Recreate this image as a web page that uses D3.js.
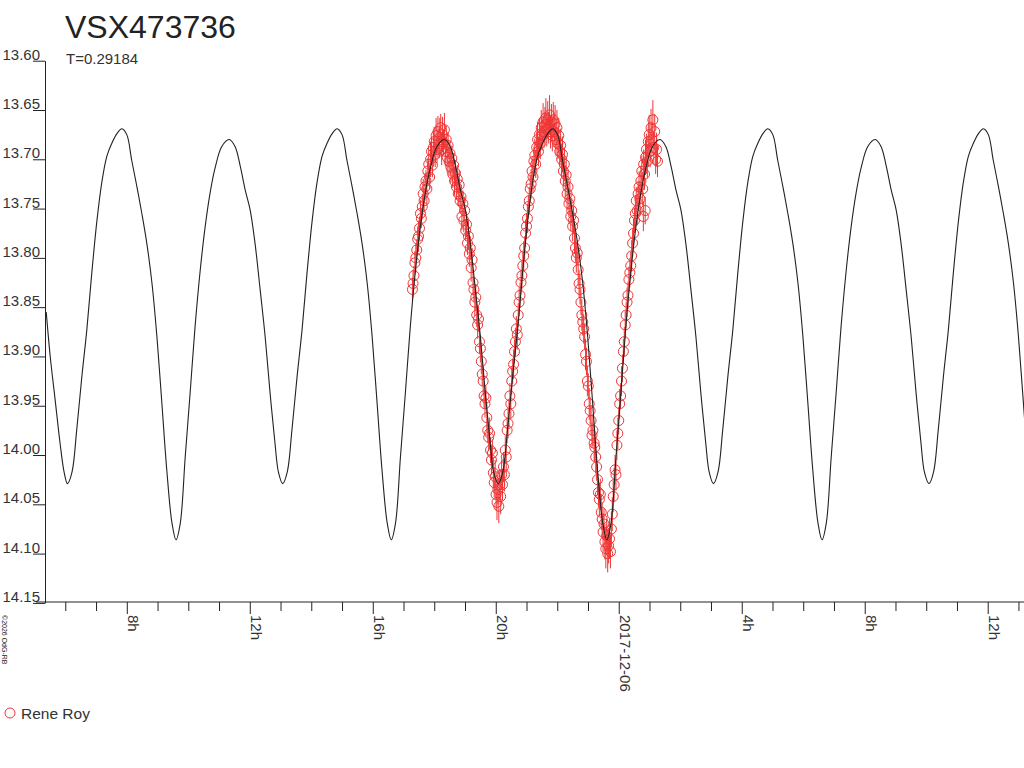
<!DOCTYPE html>
<html>
<head>
<meta charset="utf-8">
<script src="https://cdn.jsdelivr.net/npm/d3@7"></script>
<style>
  html, body { margin: 0; padding: 0; background: #fff; }
  svg { display: block; }
  text { font-family: "Liberation Sans", Arial, Helvetica, sans-serif; }
</style>
</head>
<body>
<svg id="chart" width="1024" height="768"></svg>
<script>
// ---------- DATA (times are hours relative to 2017-12-06 00:00 UT) ----------
const starName = "VSX473736";
const periodLabel = "T=0.29184";
const observer = "Rene Roy";
const copyright = "\u00A92026 OdG-RB";

const yTicks = [13.60, 13.65, 13.70, 13.75, 13.80, 13.85, 13.90, 13.95, 14.00, 14.05, 14.10, 14.15];
const xDomainHours = [-18.66, 13.18];

// model light curve [hour, mag]
const modelCurve = [
  [-18.62,13.855],[-18.49,13.900],[-18.33,13.944],[-18.17,13.988],[-18.04,14.017],
  [-17.93,14.029],[-17.78,14.017],[-17.63,13.975],[-17.46,13.920],[-17.30,13.873],[-17.14,13.816],
  [-16.97,13.762],[-16.81,13.723],[-16.65,13.697],[-16.49,13.684],[-16.32,13.674],[-16.16,13.669],
  [-16.00,13.675],[-15.84,13.701],[-15.67,13.728],[-15.51,13.755],[-15.35,13.785],[-15.18,13.826],
  [-15.02,13.880],[-14.86,13.947],[-14.70,14.015],[-14.53,14.069],[-14.40,14.086],[-14.26,14.069],
  [-14.10,14.002],[-13.94,13.937],[-13.78,13.870],[-13.61,13.812],[-13.45,13.768],[-13.29,13.734],
  [-13.13,13.709],[-12.91,13.687],[-12.67,13.680],[-12.48,13.687],[-12.31,13.707],[-12.15,13.731],
  [-11.99,13.751],[-11.83,13.785],[-11.66,13.833],[-11.50,13.880],[-11.34,13.937],[-11.18,13.988],
  [-11.07,14.017],
  [-10.93,14.029],[-10.78,14.017],[-10.63,13.975],[-10.46,13.920],[-10.30,13.873],[-10.14,13.816],
  [-9.97,13.762],[-9.81,13.723],[-9.65,13.697],[-9.49,13.684],[-9.32,13.674],[-9.16,13.669],
  [-9.00,13.675],[-8.84,13.701],[-8.67,13.728],[-8.51,13.755],[-8.35,13.785],[-8.18,13.826],
  [-8.02,13.880],[-7.86,13.947],[-7.70,14.015],[-7.53,14.069],[-7.40,14.086],[-7.26,14.069],
  [-7.10,14.002],[-6.94,13.937],[-6.78,13.870],[-6.61,13.812],[-6.45,13.768],[-6.29,13.734],
  [-6.13,13.709],[-5.91,13.687],[-5.67,13.680],[-5.48,13.687],[-5.31,13.707],[-5.15,13.731],
  [-4.99,13.751],[-4.83,13.785],[-4.66,13.833],[-4.50,13.880],[-4.34,13.937],[-4.18,13.988],
  [-4.07,14.017],
  [-3.92,14.029],[-3.77,14.017],[-3.62,13.975],[-3.45,13.920],[-3.29,13.873],[-3.13,13.816],
  [-2.96,13.762],[-2.80,13.723],[-2.64,13.697],[-2.48,13.684],[-2.31,13.674],[-2.15,13.669],
  [-1.99,13.675],[-1.83,13.701],[-1.66,13.728],[-1.50,13.755],[-1.34,13.785],[-1.17,13.826],
  [-1.01,13.880],[-0.85,13.947],[-0.69,14.015],[-0.52,14.069],[-0.39,14.086],[-0.25,14.069],
  [-0.09,14.002],[0.07,13.937],[0.23,13.870],[0.40,13.812],[0.56,13.768],[0.72,13.734],
  [0.88,13.709],[1.10,13.687],[1.34,13.680],[1.53,13.687],[1.70,13.707],[1.86,13.731],
  [2.02,13.751],[2.18,13.785],[2.35,13.833],[2.51,13.880],[2.67,13.937],[2.83,13.988],
  [2.94,14.017],
  [3.08,14.029],[3.23,14.017],[3.38,13.975],[3.55,13.920],[3.71,13.873],[3.87,13.816],
  [4.04,13.762],[4.20,13.723],[4.36,13.697],[4.52,13.684],[4.69,13.674],[4.85,13.669],
  [5.01,13.675],[5.17,13.701],[5.34,13.728],[5.50,13.755],[5.66,13.785],[5.83,13.826],
  [5.99,13.880],[6.15,13.947],[6.31,14.015],[6.48,14.069],[6.61,14.086],[6.75,14.069],
  [6.91,14.002],[7.07,13.937],[7.23,13.870],[7.40,13.812],[7.56,13.768],[7.72,13.734],
  [7.88,13.709],[8.10,13.687],[8.34,13.680],[8.53,13.687],[8.70,13.707],[8.86,13.731],
  [9.02,13.751],[9.18,13.785],[9.35,13.833],[9.51,13.880],[9.67,13.937],[9.83,13.988],
  [9.94,14.017],
  [10.09,14.029],[10.24,14.017],[10.39,13.975],[10.56,13.920],[10.72,13.873],[10.88,13.816],
  [11.05,13.762],[11.21,13.723],[11.37,13.697],[11.53,13.684],[11.70,13.674],[11.86,13.669],
  [12.02,13.675],[12.18,13.701],[12.35,13.728],[12.51,13.755],[12.67,13.785],[12.84,13.826],
  [13.00,13.880],[13.16,13.947],[13.32,14.015]
];

// observations [hour, mag, error]
const observations = [
  [-6.71,13.832,0.012],[-6.69,13.826,0.014],[-6.66,13.818,0.010],[-6.63,13.805,0.012],[-6.60,13.800,0.015],
  [-6.57,13.792,0.011],[-6.54,13.781,0.013],[-6.51,13.778,0.016],[-6.48,13.770,0.012],[-6.45,13.755,0.014],
  [-6.42,13.760,0.010],[-6.39,13.748,0.013],[-6.36,13.735,0.015],[-6.33,13.742,0.012],[-6.30,13.728,0.014],
  [-6.27,13.722,0.011],[-6.24,13.730,0.016],[-6.21,13.712,0.013],[-6.18,13.705,0.015],[-6.15,13.718,0.012],
  [-6.12,13.700,0.018],[-6.09,13.692,0.014],[-6.06,13.706,0.012],[-6.03,13.688,0.016],[-6.00,13.682,0.015],
  [-5.97,13.695,0.013],[-5.94,13.676,0.018],[-5.91,13.690,0.014],[-5.88,13.672,0.016],[-5.85,13.684,0.015],
  [-5.82,13.678,0.020],[-5.79,13.668,0.014],[-5.76,13.690,0.016],[-5.73,13.675,0.018],[-5.70,13.683,0.013],
  [-5.67,13.670,0.017],[-5.64,13.692,0.015],[-5.61,13.680,0.014],[-5.58,13.698,0.016],[-5.55,13.686,0.013],
  [-5.52,13.702,0.015],[-5.49,13.694,0.012],[-5.46,13.708,0.016],[-5.43,13.699,0.013],[-5.40,13.715,0.014],
  [-5.37,13.706,0.012],[-5.34,13.722,0.015],[-5.31,13.714,0.013],
  [-5.28,13.728,0.013],[-5.25,13.720,0.014],[-5.22,13.735,0.012],[-5.19,13.726,0.015],[-5.16,13.742,0.013],
  [-5.13,13.738,0.012],[-5.10,13.758,0.014],[-5.07,13.745,0.013],[-5.04,13.762,0.012],[-5.01,13.752,0.014],
  [-4.98,13.772,0.011],[-4.95,13.766,0.013],[-4.92,13.785,0.012],[-4.89,13.778,0.014],[-4.86,13.796,0.013],
  [-4.83,13.790,0.012],[-4.80,13.810,0.014],[-4.77,13.802,0.012],[-4.74,13.825,0.013],[-4.71,13.832,0.012],
  [-4.68,13.845,0.014],[-4.65,13.840,0.013],[-4.62,13.858,0.012],[-4.59,13.868,0.014],[-4.56,13.862,0.013],
  [-4.53,13.885,0.012],[-4.50,13.892,0.014],[-4.47,13.905,0.013],[-4.44,13.918,0.012],[-4.41,13.925,0.015],
  [-4.38,13.940,0.013],[-4.35,13.948,0.014],[-4.32,13.942,0.012],[-4.29,13.962,0.015],[-4.26,13.975,0.013],
  [-4.23,13.982,0.014],[-4.20,13.978,0.016],[-4.17,13.995,0.013],[-4.14,14.005,0.015],[-4.11,13.998,0.014],
  [-4.08,14.018,0.016],[-4.05,14.028,0.015],[-4.02,14.022,0.017],[-3.99,14.040,0.016],[-3.96,14.048,0.018],
  [-3.93,14.035,0.015],[-3.90,14.052,0.017],[-3.87,14.030,0.016],[-3.84,14.042,0.018],[-3.81,14.020,0.015],
  [-3.78,14.030,0.016],[-3.75,14.012,0.015],[-3.72,14.020,0.017],[-3.69,13.995,0.014],[-3.66,14.002,0.016],
  [-3.63,13.975,0.013],[-3.60,13.968,0.015],[-3.57,13.958,0.014],[-3.54,13.940,0.013],[-3.51,13.948,0.015],
  [-3.48,13.925,0.014],[-3.45,13.915,0.013],[-3.42,13.908,0.015],[-3.39,13.895,0.012],[-3.36,13.885,0.014],
  [-3.33,13.872,0.013],[-3.30,13.878,0.015],[-3.27,13.858,0.012],[-3.24,13.845,0.014],[-3.21,13.838,0.013],
  [-3.18,13.825,0.012],[-3.15,13.818,0.014],[-3.12,13.808,0.013],[-3.09,13.798,0.015],[-3.06,13.790,0.012],
  [-3.03,13.775,0.014],[-3.00,13.768,0.013],[-2.97,13.760,0.015],[-2.94,13.748,0.012],[-2.91,13.742,0.014],
  [-2.88,13.730,0.013],[-2.85,13.725,0.015],[-2.82,13.712,0.014],[-2.79,13.718,0.016],[-2.76,13.702,0.015],
  [-2.73,13.696,0.017],[-2.70,13.705,0.014],[-2.67,13.688,0.016],[-2.64,13.680,0.018],[-2.61,13.692,0.015],
  [-2.58,13.675,0.017],[-2.55,13.684,0.016],[-2.52,13.668,0.018],[-2.49,13.676,0.015],[-2.46,13.662,0.019],
  [-2.43,13.672,0.016],[-2.40,13.665,0.018],[-2.37,13.658,0.020],[-2.34,13.670,0.017],[-2.31,13.660,0.019],
  [-2.28,13.668,0.016],[-2.25,13.655,0.020],[-2.22,13.672,0.017],[-2.19,13.662,0.018],[-2.16,13.676,0.016],
  [-2.13,13.660,0.018],[-2.10,13.672,0.016],[-2.07,13.664,0.019],[-2.04,13.680,0.017],[-2.01,13.668,0.018],
  [-1.98,13.684,0.016],[-1.95,13.676,0.018],[-1.92,13.692,0.015],[-1.89,13.686,0.017],[-1.86,13.700,0.016],
  [-1.83,13.695,0.018],[-1.80,13.712,0.015],[-1.77,13.705,0.017],[-1.74,13.722,0.016],[-1.71,13.716,0.014],
  [-1.68,13.735,0.016],[-1.65,13.728,0.015],[-1.62,13.745,0.014],[-1.59,13.740,0.016],[-1.56,13.758,0.015],
  [-1.53,13.752,0.013],[-1.50,13.768,0.015],[-1.47,13.762,0.014],[-1.44,13.780,0.016],[-1.41,13.790,0.014],
  [-1.38,13.800,0.015],[-1.35,13.795,0.013],[-1.32,13.812,0.016],[-1.29,13.826,0.014],[-1.26,13.832,0.015],
  [-1.23,13.845,0.013],[-1.20,13.858,0.016],[-1.17,13.865,0.014],[-1.14,13.872,0.015],[-1.11,13.880,0.013],
  [-1.08,13.898,0.016],[-1.05,13.905,0.014],[-1.02,13.925,0.015],[-0.99,13.930,0.013],[-0.96,13.948,0.016],
  [-0.93,13.955,0.014],[-0.90,13.965,0.015],[-0.87,13.980,0.013],[-0.84,13.975,0.016],[-0.80,13.988,0.018],
  [-0.78,13.992,0.015],[-0.75,14.002,0.017],[-0.72,14.012,0.014],[-0.69,14.025,0.016],[-0.66,14.038,0.015],
  [-0.63,14.045,0.017],[-0.60,14.040,0.016],[-0.57,14.058,0.018],[-0.54,14.065,0.017],[-0.51,14.078,0.019],
  [-0.48,14.070,0.016],[-0.45,14.088,0.018],[-0.42,14.095,0.020],[-0.39,14.082,0.017],[-0.36,14.100,0.019],
  [-0.33,14.092,0.018],[-0.30,14.085,0.020],[-0.27,14.098,0.017],
  [-0.24,14.075,0.018],[-0.21,14.060,0.017],[-0.18,14.042,0.016],[-0.15,14.030,0.017],[-0.12,14.015,0.015],
  [-0.09,14.020,0.016],[-0.06,13.990,0.015],[-0.03,13.978,0.016],[0.00,13.965,0.014],[0.03,13.948,0.015],
  [0.06,13.940,0.013],[0.09,13.925,0.015],[0.12,13.912,0.014],[0.15,13.895,0.013],[0.18,13.885,0.015],
  [0.21,13.868,0.014],[0.24,13.858,0.013],[0.27,13.845,0.015],[0.30,13.838,0.014],[0.33,13.822,0.013],
  [0.36,13.815,0.015],[0.39,13.808,0.014],[0.42,13.798,0.016],[0.45,13.785,0.014],[0.48,13.775,0.015],
  [0.51,13.762,0.013],[0.54,13.755,0.016],[0.57,13.742,0.014],[0.60,13.752,0.015],[0.63,13.735,0.013],
  [0.66,13.728,0.016],[0.69,13.740,0.017],[0.72,13.722,0.015],[0.75,13.712,0.016],[0.78,13.730,0.017],
  [0.80,13.758,0.015],[0.81,13.705,0.015],[0.84,13.715,0.016],[0.86,13.752,0.014],[0.87,13.698,0.018],
  [0.90,13.690,0.016],[0.93,13.702,0.017],[0.96,13.682,0.018],[0.99,13.675,0.020],[1.02,13.692,0.016],
  [1.05,13.668,0.019],[1.08,13.680,0.017],[1.11,13.660,0.020],[1.14,13.688,0.016],[1.17,13.672,0.018],
  [1.20,13.700,0.015],[1.23,13.690,0.017],[1.26,13.702,0.016]
];

// ---------- CHART ----------
const W = 1024, H = 768;
const plotLeft = 45, plotRight = 1024, plotTop = 60.7, plotBottom = 602.9;
const obsColor = "#ee3535";
const base = Date.UTC(2017, 11, 6);
const toDate = h => new Date(base + h * 3600000);

const svg = d3.select("#chart");
svg.append("rect").attr("width", W).attr("height", H).attr("fill", "#fff");

const x = d3.scaleUtc()
  .domain(xDomainHours.map(toDate))
  .range([plotLeft, plotRight]);
const y = d3.scaleLinear()
  .domain([yTicks[0], yTicks[yTicks.length - 1]])
  .range([plotTop, plotBottom]);

// title
svg.append("text").attr("x", 65).attr("y", 38)
  .attr("font-size", 32).attr("fill", "#222").text(starName);
svg.append("text").attr("x", 66).attr("y", 64)
  .attr("font-size", 15).attr("fill", "#333").text(periodLabel);

// y axis
const yAxis = d3.axisLeft(y).tickValues(yTicks).tickSize(12).tickSizeOuter(0)
  .tickFormat(d3.format(".2f"));
const gy = svg.append("g").attr("transform", `translate(${plotLeft},0)`).call(yAxis);
gy.select(".domain").attr("stroke", "#222");
gy.selectAll(".tick line").attr("stroke", "#222");
gy.selectAll(".tick text")
  .attr("x", -5).attr("y", -1.5).attr("dy", null)
  .attr("text-anchor", "end")
  .attr("font-family", "'Liberation Sans', Arial, sans-serif")
  .attr("font-size", 15).attr("fill", "#333");

// x axis
const hourTicks = d3.utcHour.range(toDate(-18), toDate(13.1));
const isMajor = d => d.getUTCHours() % 4 === 0;
const gx = svg.append("g").attr("transform", `translate(0,${plotBottom - 0.9})`);
gx.append("line")
  .attr("x1", 36).attr("x2", plotRight).attr("y1", 0).attr("y2", 0)
  .attr("stroke", "#222");
const xAxisMinor = d3.axisBottom(x).tickValues(hourTicks.filter(d => !isMajor(d)))
  .tickSize(9).tickFormat("");
const gxm = gx.append("g").call(xAxisMinor);
gxm.select(".domain").remove();
gxm.selectAll(".tick line").attr("stroke", "#222");

const xAxisMajor = d3.axisBottom(x).tickValues(hourTicks.filter(isMajor))
  .tickSize(12)
  .tickFormat(d => d.getUTCHours() === 0 ? d3.utcFormat("%Y-%m-%d")(d) : d.getUTCHours() + "h");
const gxM = gx.append("g").call(xAxisMajor);
gxM.select(".domain").remove();
gxM.selectAll(".tick line").attr("stroke", "#222");
gxM.selectAll(".tick text")
  .attr("y", 0).attr("dy", null)
  .attr("transform", "translate(1,13) rotate(90)")
  .attr("text-anchor", "start")
  .attr("font-family", "'Liberation Sans', Arial, sans-serif")
  .attr("font-size", 15).attr("fill", "#333");

// copyright
svg.append("text")
  .attr("transform", "translate(2,615) rotate(90)")
  .attr("font-size", 7).attr("fill", "#222").text(copyright);

// observations
const gObs = svg.append("g");
gObs.selectAll("line.err").data(observations).join("line")
  .attr("class", "err")
  .attr("x1", d => x(toDate(d[0]))).attr("x2", d => x(toDate(d[0])))
  .attr("y1", d => y(d[1] - d[2])).attr("y2", d => y(d[1] + d[2]))
  .attr("stroke", obsColor).attr("stroke-width", 1);
gObs.selectAll("circle").data(observations).join("circle")
  .attr("cx", d => x(toDate(d[0]))).attr("cy", d => y(d[1]))
  .attr("r", 5).attr("fill", "none")
  .attr("stroke", obsColor).attr("stroke-width", 1);

// model curve
const line = d3.line()
  .x(d => x(toDate(d[0])))
  .y(d => y(d[1]))
  .curve(d3.curveCatmullRom.alpha(0.5));
svg.append("path").datum(modelCurve)
  .attr("d", line).attr("fill", "none")
  .attr("stroke", "#222").attr("stroke-width", 1.1);

// legend
svg.append("circle").attr("cx", 10).attr("cy", 713).attr("r", 5)
  .attr("fill", "none").attr("stroke", obsColor);
svg.append("text").attr("x", 21).attr("y", 719)
  .attr("font-size", 15.5).attr("fill", "#333").text(observer);
</script>
</body>
</html>
